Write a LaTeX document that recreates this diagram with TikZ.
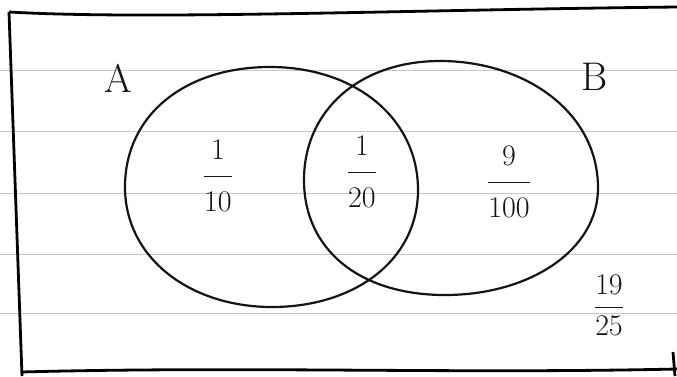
\RequirePackage{fix-cm}
\documentclass[tikz,border=0pt]{standalone}
\usetikzlibrary{positioning}
\tikzset{
  ruled/.style={draw=black!22, line width=0.9pt},
  frame/.style={draw=black, line width=2.8pt},
  venn/.style={draw=black!92, line width=2.2pt},
  setname/.style={font=\fontsize{40}{44}\selectfont, inner sep=0pt, text=black!92},
  prob/.style={font=\fontsize{30}{34}\selectfont, inner sep=0pt, text=black!92},
}
% fraction written with wide gaps round the bar
\newcommand{\handfrac}[2]{$\displaystyle\frac{#1\rule[-.5em]{0pt}{.5em}}{\rule{0pt}{1.15em}#2}$}

\begin{document}
\begin{tikzpicture}[x=1pt, y=-1pt]
    \useasboundingbox (0,0) rectangle (677,376);
    \fill[white] (0,0) rectangle (677,376);

    % ruled paper
    \foreach \y in {70,131,193,254,313} {
        \draw[ruled] (0,\y) -- (677,\y);
    }

    % box round the diagram
    \draw[frame] (9,12) .. controls (150,20) and (400,10) .. (677,7);
    \draw[frame] (9,12) -- (22,376);
    \draw[frame] (21,372) .. controls (250,366) and (450,374) .. (677,369);
    \draw[frame] (673,352) -- (675,376);

    % the two sets (a bit squarer than ellipses, as drawn by hand)
    \draw[venn] (270,67) .. controls (355,67) and (418,118) .. (418,190)
        .. controls (418,260) and (355,307) .. (272,307)
        .. controls (190,307) and (125,258) .. (125,187)
        .. controls (125,115) and (185,67) .. (270,67) -- cycle;
    \draw[venn] (440,61) .. controls (525,61) and (598,112) .. (598,188)
        .. controls (598,250) and (530,295) .. (445,295)
        .. controls (360,295) and (304,250) .. (304,180)
        .. controls (304,110) and (360,61) .. (440,61) -- cycle;

    \node[setname] (A) at (118,78) {A};
    \node[setname] (B) at (595,77) {B};

    % probabilities of the regions
    \node[prob] (onlyA) at (218,176) {\handfrac{1}{10}};
    \node[prob] (AandB) at (362,172) {\handfrac{1}{20}};
    \node[prob] (onlyB) at (509,182) {\handfrac{9}{100}};
    \node[prob] (neither) at (609,305) {$\displaystyle\frac{19}{25}$};
\end{tikzpicture}
\end{document}
